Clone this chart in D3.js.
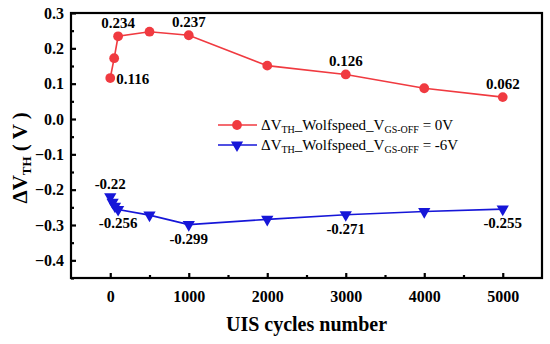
<!DOCTYPE html>
<html>
<head>
<meta charset="utf-8">
<script src="https://cdn.jsdelivr.net/npm/d3@7"></script>
<style>
  body { margin: 0; background: #fff; }
</style>
</head>
<body>
<svg id="chart" width="550" height="344"></svg>
<script>
// data
const redCycles = [0, 50, 100, 500, 1000, 2000, 3000, 4000, 5000];
const redValues = [0.116, 0.172, 0.234, 0.247, 0.237, 0.151, 0.126, 0.087, 0.062];
const blueCycles = [0, 30, 60, 100, 500, 1000, 2000, 3000, 4000, 5000];
const blueValues = [-0.22, -0.236, -0.247, -0.256, -0.272, -0.299, -0.284, -0.271, -0.262, -0.255];
const xTicks = [0, 1000, 2000, 3000, 4000, 5000];
const yTicks = [0.3, 0.2, 0.1, 0.0, -0.1, -0.2, -0.3, -0.4];
// labelled points: [index, text, position]
const redLabels = [[0, "0.116", "right"], [2, "0.234", "above"], [4, "0.237", "above"], [6, "0.126", "above"], [8, "0.062", "above"]];
const blueLabels = [[0, "-0.22", "above"], [3, "-0.256", "below"], [5, "-0.299", "below"], [7, "-0.271", "below"], [9, "-0.255", "below"]];

const FONT = "Times New Roman";
const red = "#f03a40", blue = "#1616d8";
const margin = {left: 71, top: 13, right: 8, bottom: 66};
const width = 550, height = 344;

const svg = d3.select("#chart");
const x = d3.scaleLinear().domain([-500, 5500]).range([margin.left, width - margin.right]);
const y = d3.scaleLinear().domain([-0.45, 0.3]).range([height - margin.bottom, margin.top]);

// frame
svg.append("rect")
    .attr("x", x.range()[0]).attr("y", y.range()[1])
    .attr("width", x.range()[1] - x.range()[0])
    .attr("height", y.range()[0] - y.range()[1])
    .attr("fill", "none").attr("stroke", "#000").attr("stroke-width", 2.2);

// x axis, inward ticks
svg.append("g").attr("transform", "translate(0," + y.range()[0] + ")")
    .call(d3.axisBottom(x).tickValues(xTicks).tickSize(-5).tickPadding(13).tickFormat(d3.format("d")));
svg.append("g").attr("transform", "translate(0," + y.range()[0] + ")")
    .call(d3.axisBottom(x).tickValues(d3.range(500, 5500, 1000)).tickSize(-3).tickFormat(""));
// y axis
svg.append("g").attr("transform", "translate(" + x.range()[0] + ",0)")
    .call(d3.axisLeft(y).tickValues(yTicks).tickSize(-5).tickPadding(7).tickFormat(d3.format(".1f")));
svg.append("g").attr("transform", "translate(" + x.range()[0] + ",0)")
    .call(d3.axisLeft(y).tickValues(d3.range(-0.45, 0.3, 0.1)).tickSize(-3).tickFormat(""));

svg.selectAll(".domain").remove();
svg.selectAll("g").attr("font-family", null);
svg.selectAll(".tick line").attr("stroke", "#000").attr("stroke-width", 2.2);
svg.selectAll(".tick text").attr("font-size", 16)
    .attr("font-weight", "bold").attr("fill", "#000");

// series
function drawSeries(xs, vs, color, symbol, size) {
    let pts = xs.map((c, i) => [x(c), y(vs[i])]);
    svg.append("path").attr("d", d3.line()(pts))
        .attr("fill", "none").attr("stroke", color).attr("stroke-width", 1.6);
    svg.append("g").selectAll("path").data(pts).enter().append("path")
        .attr("transform", d => "translate(" + d[0] + "," + d[1] + ")" + (symbol === d3.symbolTriangle ? " rotate(180)" : ""))
        .attr("d", d3.symbol().type(symbol).size(size))
        .attr("fill", color);
    return pts;
}
let rp = drawSeries(redCycles, redValues, red, d3.symbolCircle, 75);
let bp = drawSeries(blueCycles, blueValues, blue, d3.symbolTriangle, 65);

function drawLabels(pts, labels) {
    labels.forEach(l => {
        let p = pts[l[0]];
        let t = svg.append("text").text(l[1])
            .attr("font-size", 15).attr("font-weight", "bold");
        if (l[2] === "right") t.attr("x", p[0] + 6).attr("y", p[1] + 6);
        else if (l[2] === "above") t.attr("x", p[0]).attr("y", p[1] - 8).attr("text-anchor", "middle");
        else t.attr("x", p[0]).attr("y", p[1] + 19).attr("text-anchor", "middle");
    });
}
drawLabels(rp, redLabels);
drawLabels(bp, blueLabels);

// legend
const legend = [[red, d3.symbolCircle, 75, "0V"], [blue, d3.symbolTriangle, 65, "-6V"]];
legend.forEach((l, i) => {
    let ly = 125 + i * 20;
    svg.append("line").attr("x1", 218).attr("x2", 257).attr("y1", ly).attr("y2", ly)
        .attr("stroke", l[0]).attr("stroke-width", 1.6);
    svg.append("path").attr("d", d3.symbol().type(l[1]).size(l[2])())
        .attr("transform", "translate(237," + ly + ")" + (l[1] === d3.symbolTriangle ? " rotate(180)" : ""))
        .attr("fill", l[0]);
    let t = svg.append("text").attr("x", 261).attr("y", ly + 5).attr("font-size", 15);
    t.append("tspan").text("ΔV");
    t.append("tspan").text("TH").attr("font-size", 10).attr("dy", 3);
    t.append("tspan").text("_Wolfspeed_V").attr("dy", -3);
    t.append("tspan").text("GS-OFF").attr("font-size", 10).attr("dy", 3);
    t.append("tspan").text(" = " + l[3]).attr("dy", -3);
});

// axis titles
let yt = svg.append("text").attr("transform", "translate(27," + y(-0.11) + ") rotate(-90)")
    .attr("text-anchor", "middle").attr("font-size", 21).attr("font-weight", "bold");
yt.append("tspan").text("ΔV");
yt.append("tspan").text("TH").attr("font-size", 13).attr("dy", 4);
yt.append("tspan").text(" ( V )").attr("dy", -4).attr("xml:space", "preserve");

svg.append("text").attr("x", (x.range()[0] + x.range()[1]) / 2).attr("y", 331)
    .attr("text-anchor", "middle").attr("font-size", 20).attr("font-weight", "bold")
    .text("UIS cycles number");

// one font for every text, set last
svg.selectAll("text").attr("font-family", FONT).style("font-family", "'Times New Roman', 'Liberation Serif', serif");
</script>
</body>
</html>
